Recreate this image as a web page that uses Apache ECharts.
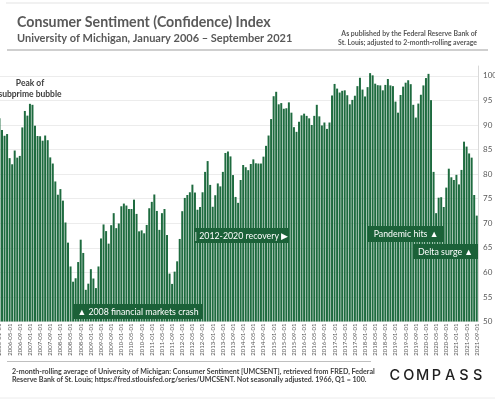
<!DOCTYPE html>
<html><head><meta charset="utf-8">
<script src="https://cdn.jsdelivr.net/npm/echarts@6/dist/echarts.min.js"></script>
<style>html,body{margin:0;padding:0;background:#fff}#c{width:495px;height:400px}</style>
</head><body><div id="c"></div>
<script>
// 2-month rolling average of UMCSENT, by year (Jan..Dec)
const v2006 = [91.35, 88.95, 87.8, 88.15, 83.25, 82.0, 84.8, 83.35, 83.7, 89.5, 92.85, 91.9];
const v2007 = [94.3, 94.1, 89.85, 87.75, 87.7, 86.8, 87.85, 86.9, 83.4, 82.15, 78.5, 75.8];
const v2008 = [76.95, 74.6, 70.15, 66.05, 61.2, 58.1, 58.8, 62.1, 66.65, 63.95, 56.45, 57.7];
const v2009 = [60.65, 58.75, 56.8, 61.2, 66.9, 69.75, 68.4, 65.85, 69.6, 72.05, 69.0, 69.95];
const v2010 = [73.45, 74.0, 73.6, 72.9, 72.9, 74.8, 71.9, 68.35, 68.55, 67.95, 69.65, 73.05];
const v2011 = [74.35, 75.85, 72.5, 68.65, 72.05, 72.9, 67.6, 59.75, 57.65, 60.15, 62.25, 66.8];
const v2012 = [72.45, 75.15, 75.75, 76.3, 77.85, 76.25, 72.75, 73.3, 76.3, 80.45, 82.65, 77.8];
const v2013 = [73.35, 75.7, 78.1, 77.5, 80.45, 84.3, 84.6, 83.6, 79.8, 75.35, 74.15, 78.8];
const v2014 = [81.85, 81.4, 80.8, 82.05, 83.0, 82.2, 82.15, 82.15, 83.55, 85.75, 87.85, 91.2];
const v2015 = [95.85, 96.75, 94.2, 94.45, 93.3, 93.4, 94.6, 92.5, 89.55, 88.6, 90.65, 91.95];
const v2016 = [92.3, 91.85, 91.35, 90.0, 91.85, 94.1, 91.75, 89.9, 90.5, 89.2, 90.5, 96.0];
const v2017 = [98.35, 97.4, 96.6, 96.95, 97.05, 96.05, 94.2, 95.1, 95.95, 97.9, 99.6, 97.2];
const v2018 = [95.8, 97.7, 100.55, 100.1, 98.4, 98.1, 98.05, 97.05, 98.15, 99.35, 98.05, 97.9];
const v2019 = [94.75, 92.5, 96.1, 97.8, 98.6, 99.1, 98.3, 94.1, 91.5, 94.35, 96.15, 98.05];
const v2020 = [99.55, 100.4, 95.05, 80.45, 72.05, 75.2, 75.3, 73.3, 77.25, 81.1, 79.35, 78.8];
const v2021 = [79.85, 77.9, 80.85, 86.6, 85.6, 84.2, 83.35, 75.75, 71.55];

const years = [2006,2007,2008,2009,2010,2011,2012,2013,2014,2015,2016,2017,2018,2019,2020,2021];
const yearValues = [v2006,v2007,v2008,v2009,v2010,v2011,v2012,v2013,v2014,v2015,v2016,v2017,v2018,v2019,v2020,v2021];
const monthCodes = ['01','02','03','04','05','06','07','08','09','10','11','12'];
const yTicks = { min: 50, max: 102, step: 5 };

const categories = [];
const values = [];
years.forEach((y, i) => {
  yearValues[i].forEach((v, m) => {
    categories.push(y + '-' + monthCodes[m] + '-01');
    values.push(v);
  });
});

const GRAY = '#595959';
const GREEN = '#1e6b3f';
const BOX = '#1b6138';
const FONT = 'Lato, "Open Sans", sans-serif';

function txt(text, x, y, font, fill, align, z) {
  return { type: 'text', x: x, y: y, z: z || 100, silent: true,
    style: { text: text, font: font, fill: fill, align: align || 'left', textAlign: align || 'left',
             verticalAlign: 'middle', textVerticalAlign: 'middle' } };
}
function box(x, y, w, h, text, font) {
  return [
    { type: 'rect', z: 100, silent: true, shape: { x: x, y: y, width: w, height: h }, style: { fill: BOX } },
    txt(text, x + w / 2, y + h / 2 + 0.5, font, '#ffffff', 'center', 101)
  ];
}
const logo = 'COMPASS'.split('').map((ch, i) =>
  txt(ch, 388 + 13.8 * (i + 0.5), 376, '500 14.5px Inter, ' + FONT, '#1f1f1f', 'center'));

const chart = echarts.init(document.getElementById('c'), null, { renderer: 'canvas' });
chart.setOption({
  animation: false,
  backgroundColor: '#ffffff',
  grid: { left: -1.8, right: 17, top: 66, bottom: 78.5, containLabel: false, outerBoundsMode: 'none' },
  xAxis: {
    type: 'category', data: categories, boundaryGap: true,
    axisLine: { show: false }, axisTick: { show: false },
    axisLabel: { interval: 3, rotate: 90, fontSize: 6, color: GRAY, margin: 2, fontFamily: FONT }
  },
  yAxis: {
    type: 'value', position: 'right', min: yTicks.min, max: yTicks.max, interval: yTicks.step,
    axisLine: { show: true, lineStyle: { color: '#d9d9d9', width: 1 } },
    axisTick: { show: false },
    axisLabel: { color: GRAY, fontSize: 8, margin: 5, showMaxLabel: false, fontFamily: FONT },
    splitLine: { show: true, showMaxLine: false, lineStyle: { color: '#ececec', width: 1 } }
  },
  series: [{
    type: 'bar', data: values, barCategoryGap: '22%',
    itemStyle: { color: GREEN }
  }],
  graphic: { elements: [
    { type: 'line', z: 100, silent: true, shape: { x1: 6, y1: 3, x2: 489, y2: 3 }, style: { stroke: '#e3e3e3', lineWidth: 1 } },
    txt('Consumer Sentiment (Confidence) Index', 17, 22.5, 'bold 14.2px ' + FONT, GRAY),
    txt('University of Michigan, January 2006 \u2013 September 2021', 17, 38, 'bold 11px ' + FONT, GRAY),
    txt('As published by the Federal Reserve Bank of', 477, 34, 'bold 6.9px ' + FONT, GRAY, 'right'),
    txt('St. Louis; adjusted to 2-month-rolling average', 477, 42.5, 'bold 6.9px ' + FONT, GRAY, 'right'),
    { type: 'line', z: 100, silent: true, shape: { x1: 7, y1: 50, x2: 488, y2: 50 }, style: { stroke: '#bfbfbf', lineWidth: 1.5 } },
    txt('Peak of', 30, 83, 'bold 8.5px ' + FONT, '#404040', 'center'),
    txt('subprime bubble', 30, 94, 'bold 8.5px ' + FONT, '#404040', 'center'),
    ...box(73, 304, 130, 15, '\u25B2 2008 financial markets crash', '8.8px ' + FONT),
    ...box(194, 228, 95, 15, '| 2012-2020 recovery \u25B6', '8.8px ' + FONT),
    ...box(368, 226, 76, 16, 'Pandemic hits \u25B2', '8.8px ' + FONT),
    ...box(413, 244, 65, 15, 'Delta surge \u25B2', '8.8px ' + FONT),
    { type: 'line', z: 100, silent: true, shape: { x1: 7, y1: 361.5, x2: 371, y2: 361.5 }, style: { stroke: '#bfbfbf', lineWidth: 1 } },
    txt('2-month-rolling average of University of Michigan: Consumer Sentiment [UMCSENT], retrieved from FRED, Federal', 12, 371.5, 'bold 7.1px ' + FONT, '#404040'),
    txt('Reserve Bank of St. Louis; https://fred.stlouisfed.org/series/UMCSENT. Not seasonally adjusted. 1966, Q1 = 100.', 12, 380, 'bold 7.1px ' + FONT, '#404040'),
    ...logo,
    { type: 'line', z: 100, silent: true, shape: { x1: 0, y1: 398, x2: 495, y2: 398 }, style: { stroke: '#ececec', lineWidth: 1 } }
  ] }
});
</script>
</body></html>
